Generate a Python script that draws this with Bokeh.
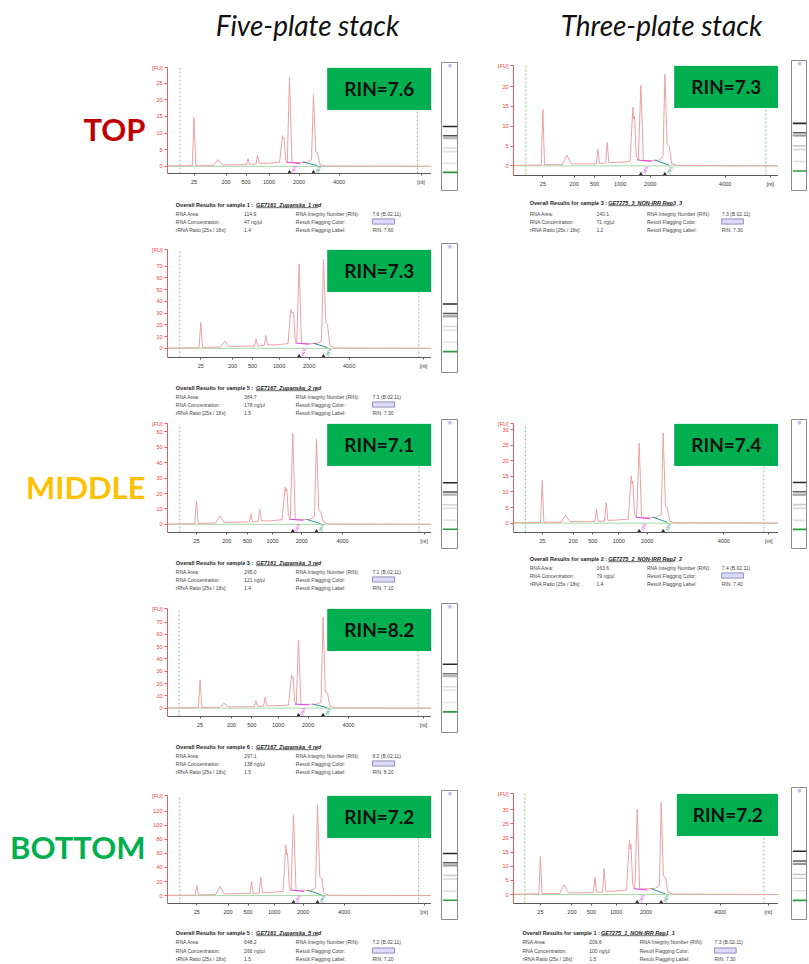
from bokeh.plotting import figure
from bokeh.layouts import row, column
from bokeh.models import Range1d, FixedTicker, Spacer
from bokeh.core.properties import value
from bokeh.embed import file_html
from bokeh.resources import INLINE

# ------------------------------------------------------------------ data
NT_LABELS = ["25", "200", "500", "1000", "2000", "4000", "[nt]"]
TITLES = ["Five-plate stack", "Three-plate stack"]
ROW_LABELS = ["TOP", "MIDDLE", "BOTTOM"]
ROW_COLORS = ["#c00000", "#ffc000", "#00b050"]

# migration time (s) / fluorescence (FU) knots of each electropherogram
L1_S = [17.0, 19.8, 21.95, 22.3, 22.65, 26.2, 27.1, 28.0, 32.8, 33.1, 33.4, 34.7, 35.0, 35.35, 37.0, 39.4,
        40.0, 40.15, 40.3, 40.65, 40.95, 41.4, 41.9, 44.9, 45.8, 46.2, 46.65, 47.0, 47.5, 48.5, 69.9]
L1_FU = [0.1, 0.2, 0.2, 14.7, 0.3, 0.3, 2.0, 0.4, 0.5, 2.3, 0.6, 0.7, 3.3, 0.9, 0.9, 1.2,
         9.2, 8.4, 8.6, 1.8, 1.3, 26.7, 1.1, 1.2, 2.0, 21.6, 4.4, 4.0, 0.5, 0.1, 0.0]
L2_S = [17.0, 19.8, 23.3, 23.66, 24.0, 27.6, 28.46, 29.3, 34.4, 34.72, 35.05, 36.35, 36.66, 37.0, 38.7, 41.1,
        41.66, 41.93, 42.2, 42.55, 42.85, 43.32, 43.8, 46.9, 47.8, 48.2, 48.65, 49.0, 49.5, 50.5, 69.9]
L2_FU = [0.2, 0.4, 0.5, 22, 0.8, 1.0, 6, 1.5, 2.0, 8, 2.0, 2.5, 11, 3.0, 3.0, 4.0,
         33, 30, 31, 6.0, 4.5, 72, 4.0, 4.0, 6.0, 76, 22, 20, 2.0, 0.3, 0.0]
L3_S = [17.0, 19.8, 22.45, 22.8, 23.15, 26.6, 27.46, 28.3, 33.35, 33.66, 34.0, 35.15, 35.46, 35.8, 37.5, 39.9,
        40.52, 40.7, 40.86, 41.2, 41.55, 42.06, 42.55, 45.5, 46.4, 46.8, 47.25, 47.66, 48.15, 49.2, 69.9]
L3_FU = [0.1, 0.3, 0.4, 15, 0.6, 0.8, 5.5, 1.2, 1.5, 7, 1.6, 2.0, 10, 2.2, 2.2, 3.0,
         24, 21, 23, 5, 3.5, 59, 3.0, 3.2, 5.0, 55.5, 9, 8, 1.5, 0.2, 0.0]
L4_S = [17.0, 19.8, 23.17, 23.52, 23.87, 27.4, 28.32, 29.2, 34.35, 34.66, 35.0, 36.2, 36.52, 36.85, 38.6, 41.2,
        41.8, 41.96, 42.12, 42.45, 42.75, 43.2, 43.7, 46.8, 47.7, 48.12, 48.57, 49.0, 49.5, 50.6, 69.9]
L4_FU = [0.1, 0.3, 0.4, 23, 0.6, 0.7, 4, 1.0, 1.2, 6, 1.3, 1.6, 9, 2.0, 2.0, 2.5,
         27, 24, 25, 5, 3.0, 55, 3.0, 3.2, 5.0, 74, 13, 12, 1.5, 0.2, 0.0]
L5_S = [17.0, 19.8, 22.5, 22.86, 23.2, 26.6, 27.52, 28.4, 33.5, 33.8, 34.15, 35.35, 35.66, 36.0, 37.7, 40.1,
        40.66, 40.83, 41.0, 41.35, 41.7, 42.2, 42.7, 45.7, 46.6, 47.0, 47.45, 47.8, 48.3, 49.3, 69.9]
L5_FU = [0.3, 0.5, 0.8, 14, 1.0, 1.5, 13, 2.5, 3.0, 20, 3.0, 3.5, 26, 4.0, 4.5, 6,
         72, 58, 60, 12, 8, 115, 7, 7.5, 11, 128, 27, 25, 3, 0.5, 0.0]
R1_S = [17.0, 19.8, 22.55, 22.88, 23.2, 26.8, 27.68, 28.55, 33.58, 33.88, 34.2, 35.43, 35.74, 36.08, 37.8, 40.3,
        40.88, 41.04, 41.2, 41.55, 41.95, 42.48, 42.98, 46.0, 46.9, 47.28, 47.73, 48.14, 48.64, 49.7, 70.0]
R1_FU = [0.1, 0.2, 0.2, 14.2, 0.3, 0.3, 2.7, 0.5, 0.5, 4.2, 0.6, 0.7, 5.9, 0.8, 0.9, 1.1,
         14.8, 11.8, 12.5, 2.5, 1.5, 20.3, 1.3, 1.4, 2.3, 23.1, 5.5, 5.0, 0.6, 0.1, 0.0]
R2_S = [17.0, 19.8, 22.4, 22.74, 23.08, 26.5, 27.4, 28.3, 33.3, 33.6, 33.92, 35.22, 35.54, 35.88, 37.6, 39.95,
        40.54, 40.7, 40.86, 41.2, 41.62, 42.14, 42.62, 45.6, 46.55, 46.94, 47.38, 47.74, 48.25, 49.3, 70.0]
R2_FU = [0.1, 0.2, 0.2, 13.7, 0.3, 0.3, 2.6, 0.5, 0.6, 4.5, 0.6, 0.7, 6.6, 0.9, 1.0, 1.3,
         15.2, 12.6, 13.5, 3.0, 1.8, 25.7, 1.8, 1.9, 2.8, 29, 5.5, 5.0, 0.6, 0.1, 0.0]
R3_S = [17.0, 19.8, 22.2, 22.52, 22.85, 26.5, 27.4, 28.3, 33.42, 33.72, 34.05, 35.28, 35.6, 35.95, 37.7, 40.2,
        40.8, 40.96, 41.12, 41.47, 41.9, 42.4, 42.9, 46.0, 46.95, 47.32, 47.77, 48.2, 48.7, 49.8, 71.4]
R3_FU = [0.1, 0.2, 0.3, 13.5, 0.4, 0.4, 3.5, 0.6, 0.7, 6.2, 0.8, 0.9, 9.2, 1.1, 1.2, 1.6,
         19.3, 16.0, 17.7, 3.5, 2.0, 30, 2.0, 2.1, 3.2, 32.7, 6.5, 6.0, 0.8, 0.2, 0.0]

# ladder tick positions (s) for the nt labels
L1_TICKS = [22.3, 28.7, 32.7, 37.3, 43.3, 51.3, 67.7]
L2_TICKS = [23.66, 30.0, 34.0, 39.32, 45.32, 53.32, 68.2]
L3_TICKS = [22.8, 28.86, 33.0, 38.0, 43.86, 52.0, 68.32]
L4_TICKS = [23.52, 29.8, 33.86, 39.12, 45.12, 53.2, 68.2]
L5_TICKS = [22.86, 29.12, 33.12, 38.32, 44.12, 52.32, 68.32]
R1_TICKS = [22.88, 29.14, 33.2, 38.34, 44.34, 59.34, 68.34]
R2_TICKS = [22.74, 28.94, 32.86, 38.06, 43.74, 59.06, 68.06]
R3_TICKS = [22.52, 29.0, 33.0, 38.06, 44.2, 59.4, 69.32]

# start / end of the analysed window (s)
L1_WIN = [19.5, 67.0]
L2_WIN = [19.46, 67.26]
L3_WIN = [19.46, 67.32]
L4_WIN = [19.32, 67.12]
L5_WIN = [19.46, 67.2]
R1_WIN = [19.48, 67.48]
R2_WIN = [19.4, 67.06]
R3_WIN = [19.32, 68.4]

# FU axis limits (bottom, [FU] top) and tick step / last tick
L1_Y = [-2.16, 29.62, 5, 25]
L2_Y = [-7.8, 84.0, 10, 70]
L3_Y = [-5.33, 65.36, 10, 60]
L4_Y = [-6.8, 80.8, 10, 70]
L5_Y = [-11.25, 142.0, 20, 120]
R1_Y = [-2.43, 25.25, 5, 20]
R2_Y = [-3.0, 31.9, 5, 30]
R3_Y = [-3.15, 35.6, 5, 30]

# 18S / 28S area baselines: x0, x1, y0, y1
L1_A18 = [40.7, 43.5, 1.3, 0.8];   L1_A28 = [44.1, 47.0, 1.3, 0.2]
L2_A18 = [42.6, 45.4, 4.5, 3.5];   L2_A28 = [46.1, 49.0, 4.5, 0.6]
L3_A18 = [41.35, 44.15, 3.3, 2.6]; L3_A28 = [44.7, 47.6, 3.3, 0.5]
L4_A18 = [42.5, 45.3, 3.3, 2.6];   L4_A28 = [46.0, 48.9, 3.3, 0.5]
L5_A18 = [41.5, 44.3, 8.0, 6.0];   L5_A28 = [44.9, 47.8, 8.0, 1.0]
R1_A18 = [41.8, 44.6, 1.5, 1.1];   R1_A28 = [45.2, 48.1, 1.5, 0.2]
R2_A18 = [41.45, 44.25, 1.9, 1.4]; R2_A28 = [44.85, 47.75, 1.9, 0.3]
R3_A18 = [41.7, 44.5, 2.1, 1.6];   R3_A28 = [45.2, 48.1, 2.1, 0.3]

RIN_BOX = ["RIN=7.6", "RIN=7.3", "RIN=7.1", "RIN=8.2", "RIN=7.2", "RIN=7.3", "RIN=7.4", "RIN=7.2"]

# sample, file name, RNA area, concentration, rRNA ratio, RIN, flag label
L1_INFO = ["1", "GE7161_Zupanska_1 red", "114.9", "47 ng/µl", "1.4", "7.6", "RIN: 7.60"]
L2_INFO = ["5", "GE7167_Zupanska_2 red", "384.7", "178 ng/µl", "1.5", "7.3", "RIN: 7.30"]
L3_INFO = ["3", "GE7161_Zupanska_3 red", "295.0", "121 ng/µl", "1.4", "7.1", "RIN: 7.10"]
L4_INFO = ["6", "GE7167_Zupanska_4 red", "297.1", "138 ng/µl", "1.5", "8.2", "RIN: 8.20"]
L5_INFO = ["5", "GE7161_Zupanska_5 red", "648.2", "266 ng/µl", "1.5", "7.2", "RIN: 7.20"]
R1_INFO = ["3", "GE7275_3_NON-IRR Rep3_3", "140.1", "71 ng/µl", "1.2", "7.3", "RIN: 7.30"]
R2_INFO = ["2", "GE7275_2_NON-IRR Rep2_2", "163.6", "79 ng/µl", "1.4", "7.4", "RIN: 7.40"]
R3_INFO = ["1", "GE7275_1_NON-IRR Rep1_1", "206.6", "100 ng/µl", "1.5", "7.3", "RIN: 7.30"]

INFO_LABELS_A = ["RNA Area:", "RNA Concentration:", "rRNA Ratio [25s / 18s]:"]
INFO_LABELS_B = ["RNA Integrity Number (RIN):", "Result Flagging Color:", "Result Flagging Label:"]

# indices of peak apexes inside the knot lists (marker, then bands)
MARKER_IDX = 3
BAND_IDX = [6, 9, 12, 16, 18, 21, 25]
BAND_WEIGHT = [1, 1, 1, 1, 1, 1, 2]
RRNA_IDX = [21, 25]

# ------------------------------------------------------------------ layout constants
SMALL = "Liberation Sans"
BIG = "Lato"
X0 = 17.0
PX_PER_S = 5.0
TOPB, BOTB = 6, 13
PAGE_W = 808
BODY_TOP, BODY_BOT = 58, 963
BODY_H = BODY_BOT - BODY_TOP
LW, RW = 286, 294          # electropherogram column widths
L_LEFT, R_LEFT = 145, 484  # page x of these columns
GEL_LO, GEL_HI = 12.35, 79.5


def blank(w, h, xr, yr):
    p = figure(width=w, height=h, x_range=xr, y_range=yr, output_backend="svg",
               toolbar_location=None, tools="", x_axis_location=None, y_axis_location=None)
    p.min_border = 0
    p.min_border_left = p.min_border_right = p.min_border_top = p.min_border_bottom = 0
    p.outline_line_color = None
    p.xgrid.visible = False
    p.ygrid.visible = False
    p.background_fill_color = "white"
    p.border_fill_color = "white"
    return p


def ep_fig(width, left_b, frame, s, fu, ticks, win, ylim, a18, a28, rin):
    ft, fb = frame
    fh = fb - ft
    fw = width - left_b
    x_end = X0 + fw / PX_PER_S
    ylo, yhi, ystep, ymaxt = ylim
    p = figure(width=width, height=TOPB + fh + BOTB, x_range=Range1d(X0, x_end),
               y_range=Range1d(ylo, yhi + 0.002 * (yhi - ylo)), output_backend="svg",
               toolbar_location=None, tools="")
    p.min_border_left = left_b
    p.min_border_right = 0
    p.min_border_top = TOPB
    p.min_border_bottom = BOTB
    p.outline_line_color = None
    p.xgrid.visible = False
    p.ygrid.visible = False
    p.background_fill_color = "white"
    p.border_fill_color = "white"

    xa = p.xaxis[0]
    xa.ticker = FixedTicker(ticks=ticks)
    xa.major_label_overrides = dict(zip(ticks, NT_LABELS))
    xa.axis_line_color = "#5a5a5a"
    xa.major_tick_line_color = "#5a5a5a"
    xa.major_tick_out = 2
    xa.major_tick_in = 0
    xa.minor_tick_line_color = None
    xa.major_label_text_font = SMALL
    xa.major_label_text_font_size = "5.5px"
    xa.major_label_text_color = "#333333"
    xa.major_label_standoff = 3

    ya = p.yaxis[0]
    yt = list(range(0, ymaxt + 1, ystep)) + [yhi]
    ya.ticker = FixedTicker(ticks=yt)
    ya.major_label_overrides = {yhi: "[FU]"}
    ya.axis_line_color = "#f05a5a"
    ya.major_tick_line_color = "#f05a5a"
    ya.major_tick_out = 3
    ya.major_tick_in = 0
    ya.minor_tick_line_color = None
    ya.major_label_text_font = SMALL
    ya.major_label_text_font_size = "5.5px"
    ya.major_label_text_color = "#f03c3c"
    ya.major_label_standoff = 2

    ppu = fh / (yhi - ylo)
    p.line([X0, x_end], [0, 0], line_color="#a6d8a6", line_width=1)
    p.segment(x0=win, y0=[ylo] * 2, x1=win, y1=[yhi] * 2, line_color="#86c986",
              line_width=1, line_dash="2 2")
    p.line(s, fu, line_color="#eaa3a3", line_width=1)
    p.line(a18[:2], a18[2:], line_color="#e040e0", line_width=1)
    p.line(a28[:2], a28[2:], line_color="#2f9090", line_width=1)
    pk = [s[i] for i in RRNA_IDX]
    p.scatter(pk, [ylo + 1.2 / ppu] * 2, marker="triangle", size=3, color="#333333")
    p.text(x=[pk[0] + 0.9], y=[ylo * 0.45], text=["18S"], angle=1.2, text_font=value(SMALL),
           text_font_size="4.5px", text_color="#e040e0", text_align="center", text_baseline="middle")
    p.text(x=[pk[1] + 1.0], y=[ylo * 0.45], text=["28S"], angle=1.2, text_font=value(SMALL),
           text_font_size="4.5px", text_color="#2f9090", text_align="center", text_baseline="middle")

    bl = x_end - 104.3 / PX_PER_S
    bh = 42.7 / ppu
    p.quad(left=[bl], right=[x_end], top=[yhi], bottom=[yhi - bh], fill_color="#00b050", line_color=None)
    p.text(x=[(bl + x_end) / 2], y=[yhi - bh / 2], text=[rin], text_font=value(BIG),
           text_font_size="19px", text_font_style="bold", text_color="#111111",
           text_align="center", text_baseline="middle")
    return p


def info_fig(width, page_left, top, height, x0, ys, info):
    p = blank(width, height, Range1d(page_left, page_left + width), Range1d(top + height, top))
    sample, name, area, conc, ratio, rin, flag = info
    p.text(x=[x0], y=[ys[0]], text=["Overall Results for sample %s :" % sample], text_font=value(SMALL),
           text_font_size="5.5px", text_font_style="bold", text_color="#222222", text_baseline="middle")
    p.text(x=[x0 + 87], y=[ys[0]], text=[name], text_font=value(SMALL), text_font_size="5.5px",
           text_font_style="bold italic", text_color="#222222", text_baseline="middle")
    p.segment(x0=[x0 + 87], y0=[ys[0] + 3.2], x1=[x0 + 87 + len(name) * 3.2], y1=[ys[0] + 3.2],
              line_color="#333333", line_width=0.7)
    kw = dict(text_font=value(SMALL), text_font_size="5px", text_color="#444444", text_baseline="middle")
    p.text(x=[x0] * 3, y=ys[1:], text=INFO_LABELS_A, **kw)
    p.text(x=[x0 + 74] * 3, y=ys[1:], text=[area, conc, ratio], **kw)
    p.text(x=[x0 + 130] * 3, y=ys[1:], text=INFO_LABELS_B, **kw)
    p.text(x=[x0 + 213] * 2, y=[ys[1], ys[3]], text=["%s    (B.02.11)" % rin, flag], **kw)
    p.quad(left=[x0 + 213], right=[x0 + 237], top=[ys[2] - 2.6], bottom=[ys[2] + 2.6],
           fill_color="#dcdcf8", line_color="#7878b8", line_width=0.8)
    return p


def gel_fig(width, height, s, fu):
    p = blank(width, height, Range1d(0, 1), Range1d(GEL_LO, GEL_HI))
    p.outline_line_color = "#8a8a8a"
    p.outline_line_width = 1
    hmax = max(fu[i] for i in RRNA_IDX)
    ys, cols = [], []
    for i, w in zip(BAND_IDX, BAND_WEIGHT):
        v = int(round(max(40, 240 - 160 * w * fu[i] / hmax)))
        ys.append(s[i])
        cols.append("#%02x%02x%02x" % (v, v, v))
    p.hbar(y=ys, left=0.08, right=0.92, height=0.8, fill_color=cols, line_color=None)
    p.hbar(y=[s[MARKER_IDX]], left=0.08, right=0.92, height=0.8, fill_color="#2a9a3a", line_color=None)
    p.scatter([0.5], [77.8], marker="circle", size=4, fill_color="#c4c4f2", line_color=None)
    return p


def stack(items, width):
    kids, y = [], BODY_TOP
    for t, h, obj in items:
        if t > y:
            kids.append(Spacer(width=width, height=t - y))
        kids.append(obj)
        y = t + h
    if y < BODY_BOT:
        kids.append(Spacer(width=width, height=BODY_BOT - y))
    return column(*kids)


LEFT = [
    (L1_S, L1_FU, L1_TICKS, L1_WIN, L1_Y, L1_A18, L1_A28, RIN_BOX[0], L1_INFO),
    (L2_S, L2_FU, L2_TICKS, L2_WIN, L2_Y, L2_A18, L2_A28, RIN_BOX[1], L2_INFO),
    (L3_S, L3_FU, L3_TICKS, L3_WIN, L3_Y, L3_A18, L3_A28, RIN_BOX[2], L3_INFO),
    (L4_S, L4_FU, L4_TICKS, L4_WIN, L4_Y, L4_A18, L4_A28, RIN_BOX[3], L4_INFO),
    (L5_S, L5_FU, L5_TICKS, L5_WIN, L5_Y, L5_A18, L5_A28, RIN_BOX[4], L5_INFO),
]
RIGHT = [
    (R1_S, R1_FU, R1_TICKS, R1_WIN, R1_Y, R1_A18, R1_A28, RIN_BOX[5], R1_INFO),
    (R2_S, R2_FU, R2_TICKS, R2_WIN, R2_Y, R2_A18, R2_A28, RIN_BOX[6], R2_INFO),
    (R3_S, R3_FU, R3_TICKS, R3_WIN, R3_Y, R3_A18, R3_A28, RIN_BOX[7], R3_INFO),
]
L_FRAMES = [(67, 174), (249, 358), (423, 533), (608, 717), (795, 904)]
L_INFO_Y = [[204, 213, 221, 229], [387, 396, 404, 412], [562, 571, 579, 587],
            [746, 755, 763, 771], [932, 941.5, 950, 958]]
L_GELS = [(62, 129), (243, 130), (419, 130), (603, 130), (790, 130)]
R_FRAMES = [(65, 176), (423, 533), (793, 904)]
R_INFO_Y = [[202, 213, 221, 229], [558, 567, 575, 583], [932, 941.5, 950, 958]]
R_GELS = [(60, 131), (419, 130), (787, 133)]
R_BORDER = [29, 29, 22]
R_X0 = [502, 502, 494]


def build(panels, frames, infos, width, page_left, borders, x0s):
    items = []
    for k, (s, fu, ticks, win, ylim, a18, a28, rin, info) in enumerate(panels):
        ft, fb = frames[k]
        ep = ep_fig(width, borders[k], frames[k], s, fu, ticks, win, ylim, a18, a28, rin)
        top = ft - TOPB
        h = TOPB + (fb - ft) + BOTB
        items.append((top, h, ep))
        itop = top + h
        ih = min(int(infos[k][-1] + 4 - itop + 1), BODY_BOT - itop)
        items.append((itop, ih, info_fig(width, page_left, itop, ih, x0s[k], infos[k], info)))
    return stack(items, width)


L_col = build(LEFT, L_FRAMES, L_INFO_Y, LW, L_LEFT, [22] * 5, [154] * 5)
R_col = build(RIGHT, R_FRAMES, R_INFO_Y, RW, R_LEFT, R_BORDER, R_X0)
L_gel = stack([(t, h, gel_fig(17, h, P[0], P[1])) for (t, h), P in zip(L_GELS, LEFT)], 17)
R_gel = stack([(t, h, gel_fig(16, h, P[0], P[1])) for (t, h), P in zip(R_GELS, RIGHT)], 16)

label_fig = blank(L_LEFT, BODY_H, Range1d(0, L_LEFT), Range1d(BODY_BOT, BODY_TOP))
label_fig.text(x=[145, 145, 145], y=[128, 486, 846], text=ROW_LABELS, text_color=ROW_COLORS,
               text_font=value(BIG), text_font_size="31px", text_font_style="bold",
               text_align="right", text_baseline="middle")

title_fig = blank(PAGE_W, BODY_TOP, Range1d(0, PAGE_W), Range1d(BODY_TOP, 0))
title_fig.text(x=[307, 661], y=[24, 24], text=TITLES, text_font=value(BIG), text_font_size="28px",
               text_font_style="italic", text_color="#111111", text_align="center", text_baseline="middle")

body = row(label_fig, L_col, Spacer(width=10, height=BODY_H), L_gel, Spacer(width=26, height=BODY_H),
           R_col, Spacer(width=13, height=BODY_H), R_gel, Spacer(width=1, height=BODY_H))
page = column(title_fig, body)

open("out.html", "w", encoding="utf-8").write(file_html(page, INLINE))
